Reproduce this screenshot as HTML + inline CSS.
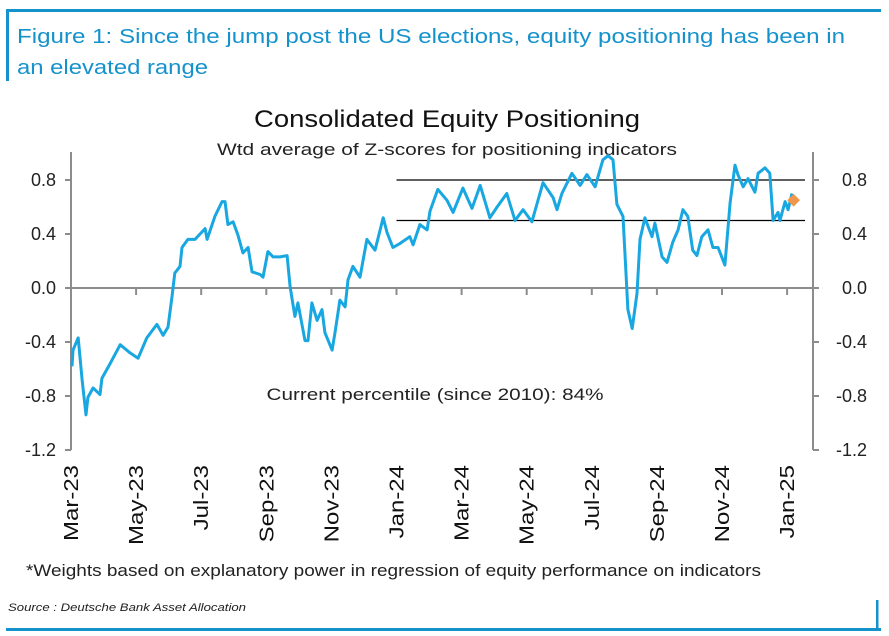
<!DOCTYPE html>
<html><head><meta charset="utf-8"><style>
html,body{margin:0;padding:0;background:#fff;width:889px;height:636px;overflow:hidden}
svg{display:block;font-family:"Liberation Sans",Arial,sans-serif}
</style></head><body>
<svg id="chart" width="889" height="636" viewBox="0 0 889 636">
  <rect x="6" y="9" width="875" height="3" fill="#1592cc"/>
  <rect x="6" y="9" width="3" height="72" fill="#1592cc"/>
  <text x="17" y="43" font-size="20" fill="#1592cc" textLength="828" lengthAdjust="spacingAndGlyphs">Figure 1: Since the jump post the US elections, equity positioning has been in</text>
  <text x="17" y="74" font-size="20" fill="#1592cc" textLength="191" lengthAdjust="spacingAndGlyphs">an elevated range</text>
  <text x="447" y="127" font-size="24" text-anchor="middle" fill="#111" textLength="386" lengthAdjust="spacingAndGlyphs">Consolidated Equity Positioning</text>
  <text x="447" y="155" font-size="17" text-anchor="middle" fill="#222" textLength="460" lengthAdjust="spacingAndGlyphs">Wtd average of Z-scores for positioning indicators</text>
  <g id="axes"></g>
  <g id="series"></g>
  <text x="435" y="400" font-size="17" text-anchor="middle" fill="#222" textLength="337" lengthAdjust="spacingAndGlyphs">Current percentile (since 2010): 84%</text>
  <text x="26" y="576" font-size="17" fill="#222" textLength="735" lengthAdjust="spacingAndGlyphs">*Weights based on explanatory power in regression of equity performance on indicators</text>
  <text x="8" y="611" font-size="11" font-style="italic" fill="#222" textLength="238" lengthAdjust="spacingAndGlyphs">Source : Deutsche Bank Asset Allocation</text>
  <rect x="6" y="628" width="875" height="3" fill="#1592cc"/>
  <rect x="876" y="600" width="2.5" height="31" fill="#1592cc"/>
</svg>
<script>
// Months since Mar-2023
const months = [0.03,0.06,0.22,0.34,0.46,0.52,0.68,0.89,0.95,1.20,1.51,1.81,2.06,2.33,2.64,2.83,2.98,3.10,3.19,3.35,3.41,3.59,3.81,4.12,4.18,4.42,4.64,4.73,4.82,4.98,5.13,5.28,5.44,5.56,5.81,5.90,6.05,6.21,6.42,6.64,6.73,6.88,6.97,7.19,7.28,7.40,7.56,7.71,7.80,8.02,8.11,8.26,8.42,8.51,8.66,8.88,9.09,9.34,9.59,9.71,9.89,10.11,10.41,10.51,10.72,10.94,11.03,11.27,11.55,11.74,12.04,12.32,12.57,12.87,13.09,13.39,13.64,13.89,14.16,14.50,14.81,14.93,15.08,15.39,15.64,15.85,16.10,16.34,16.50,16.65,16.77,16.96,17.11,17.24,17.39,17.48,17.63,17.85,17.94,18.16,18.31,18.49,18.65,18.80,18.95,19.10,19.23,19.38,19.57,19.72,19.88,20.09,20.25,20.40,20.49,20.65,20.80,21.01,21.11,21.32,21.47,21.57,21.72,21.78,21.94,22.03,22.15];
const values = [-0.58,-0.46,-0.37,-0.68,-0.94,-0.81,-0.74,-0.79,-0.67,-0.56,-0.42,-0.48,-0.52,-0.37,-0.27,-0.35,-0.29,-0.07,0.11,0.16,0.30,0.36,0.36,0.44,0.36,0.53,0.64,0.64,0.47,0.49,0.39,0.26,0.30,0.12,0.10,0.08,0.27,0.23,0.23,0.24,0.01,-0.21,-0.11,-0.39,-0.39,-0.11,-0.24,-0.16,-0.33,-0.46,-0.33,-0.09,-0.14,0.06,0.16,0.08,0.36,0.28,0.52,0.41,0.30,0.33,0.38,0.32,0.47,0.43,0.57,0.73,0.65,0.56,0.74,0.59,0.76,0.52,0.60,0.70,0.50,0.58,0.49,0.78,0.67,0.58,0.70,0.85,0.76,0.84,0.75,0.95,0.98,0.95,0.62,0.53,-0.16,-0.30,-0.04,0.36,0.52,0.38,0.48,0.23,0.19,0.34,0.43,0.58,0.53,0.28,0.24,0.38,0.43,0.30,0.30,0.17,0.63,0.91,0.84,0.75,0.81,0.71,0.85,0.89,0.85,0.50,0.56,0.50,0.64,0.58,0.70];
const currentPoint = [22.2, 0.65];
const rangeLines = [0.8, 0.5];
const rangeStart = 10.0;
const yTicks = [0.8,0.4,0.0,-0.4,-0.8,-1.2];
const yTickLabels = ["0.8","0.4","0.0","-0.4","-0.8","-1.2"];
const xTickMonths = [0,2,4,6,8,10,12,14,16,18,20,22];
const xTickLabels = ["Mar-23","May-23","Jul-23","Sep-23","Nov-23","Jan-24","Mar-24","May-24","Jul-24","Sep-24","Nov-24","Jan-25"];

const NS="http://www.w3.org/2000/svg";
const X0=71, X1=813;
const xs = m => 71 + m*32.55;
const ys = v => 288 - v*135;
function mk(tag, attrs, parent){const e=document.createElementNS(NS,tag);for(const k in attrs)e.setAttribute(k,attrs[k]);parent.appendChild(e);return e;}
const ax=document.getElementById('axes'), se=document.getElementById('series');
const G="#8c8c8c";
let e;
e=mk('line',{x1:X0,y1:152,x2:X0,y2:ys(-1.2),stroke:G,'stroke-width':2},ax);


e=mk('line',{x1:X1,y1:152,x2:X1,y2:ys(-1.2),stroke:G,'stroke-width':2},ax);


e=mk('line',{x1:X0,y1:ys(0),x2:X1,y2:ys(0),stroke:G,'stroke-width':2},ax);


yTicks.forEach((v,i)=>{
  const y=ys(v);
  mk('line',{x1:X0-6,y1:y,x2:X0,y2:y,stroke:G,'stroke-width':2},ax);
  mk('line',{x1:X1,y1:y,x2:X1+6,y2:y,stroke:G,'stroke-width':2},ax);
  e=mk('text',{x:56,y:y+6,'font-size':18,'text-anchor':'end',fill:'#222'},ax);
  e.textContent=yTickLabels[i];
  
  
  e=mk('text',{x:867,y:y+6,'font-size':18,'text-anchor':'end',fill:'#222'},ax);
  e.textContent=yTickLabels[i];
  
  
});
xTickMonths.forEach((m,i)=>{
  const x=xs(m);
  if(i>0) mk('line',{x1:x,y1:ys(0),x2:x,y2:ys(0)+7,stroke:G,'stroke-width':2},ax);
  e=mk('text',{x:0,y:0,'font-size':20,'text-anchor':'end',fill:'#111',transform:`translate(${x+7},${465}) rotate(-90) scale(1.2,1)`},ax);
  e.textContent=xTickLabels[i];
  
  
});
rangeLines.forEach(v=>{
  e=mk('line',{x1:xs(rangeStart),y1:ys(v),x2:805,y2:ys(v),stroke:'#000','stroke-width':1.2},se);
  
  
});
const pts=months.map((m,i)=>xs(m).toFixed(1)+','+ys(values[i]).toFixed(1)).join(' ');
e=mk('polyline',{points:pts,fill:'none',stroke:'#18a7e0','stroke-width':3,'stroke-linejoin':'round'},se);


const cx=xs(currentPoint[0]), cy=ys(currentPoint[1]);
e=mk('rect',{x:cx-4.5,y:cy-4.5,width:9,height:9,fill:'#f0964a',transform:`rotate(45 ${cx} ${cy})`},se);


</script>
</body></html>
